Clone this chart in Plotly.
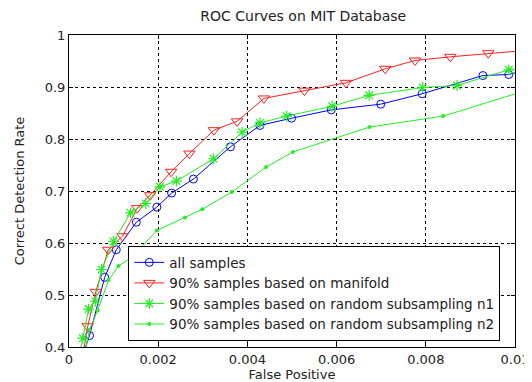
import plotly.graph_objects as go

# All samples (blue circles)
all_x = [0.00033, 0.00046, 0.0008, 0.00106, 0.00151, 0.00197, 0.0023, 0.00279, 0.00362, 0.00428,
         0.00499, 0.00588, 0.00699, 0.00792, 0.00928, 0.00986, 0.0102]
all_y = [0.39, 0.422, 0.534, 0.587, 0.640, 0.669, 0.696, 0.723, 0.785, 0.826,
         0.840, 0.856, 0.867, 0.887, 0.922, 0.924, 0.932]

# 90% samples based on manifold (red triangles)
man_x = [0.00032, 0.00042, 0.0006, 0.00088, 0.0012, 0.00153, 0.00182, 0.00229, 0.0027, 0.00325,
         0.00377, 0.00437, 0.00528, 0.00621, 0.00709, 0.00776, 0.00855, 0.0094, 0.0102]
man_y = [0.39, 0.440, 0.506, 0.587, 0.613, 0.667, 0.692, 0.737, 0.772, 0.817,
         0.834, 0.878, 0.893, 0.908, 0.935, 0.951, 0.958, 0.965, 0.970]

# 90% samples random subsampling n1 (green stars)
n1_x = [0.00025, 0.00031, 0.00044, 0.00059, 0.00073, 0.001, 0.00138, 0.00172, 0.00204, 0.00241,
        0.00324, 0.00388, 0.00428, 0.00488, 0.0059, 0.00673, 0.00793, 0.0087, 0.00986, 0.0102]
n1_y = [0.39, 0.417, 0.473, 0.488, 0.549, 0.603, 0.658, 0.676, 0.708, 0.719,
        0.762, 0.813, 0.831, 0.844, 0.863, 0.884, 0.899, 0.903, 0.933, 0.938]

# 90% samples random subsampling n2 (green dots)
n2_x = [0.00036, 0.00046, 0.00064, 0.00089, 0.00111, 0.0014, 0.00197, 0.0026, 0.00299, 0.00365,
        0.00442, 0.00502, 0.00674, 0.00839, 0.0102]
n2_y = [0.39, 0.433, 0.470, 0.529, 0.556, 0.572, 0.624, 0.649, 0.665, 0.698,
        0.746, 0.775, 0.823, 0.844, 0.892]

x_ticks = [0, 0.002, 0.004, 0.006, 0.008, 0.01]
x_tick_labels = ["0", "0.002", "0.004", "0.006", "0.008", "0.01"]
y_ticks = [0.4, 0.5, 0.6, 0.7, 0.8, 0.9, 1.0]
y_tick_labels = ["0.4", "0.5", "0.6", "0.7", "0.8", "0.9", "1"]

FAM = "DejaVu Sans, Liberation Sans, Arial"
FONT = dict(family=FAM, size=13, color="#222")
LFONT = dict(family=FAM, size=13.5, color="#222")

fig = go.Figure()
fig.add_trace(go.Scatter(x=all_x, y=all_y, mode="lines+markers", name="all samples",
                         line=dict(color="#0000ff", width=1),
                         marker=dict(symbol="circle-open", size=8, color="#0000ff", line=dict(width=1))))
fig.add_trace(go.Scatter(x=man_x, y=man_y, mode="lines+markers", name="90% samples based on manifold",
                         line=dict(color="#ff2020", width=1),
                         marker=dict(symbol="triangle-down-open", size=10, color="#ff2020", line=dict(width=1))))
fig.add_trace(go.Scatter(x=n1_x, y=n1_y, mode="lines+markers",
                         name="90% samples based on random subsampling n1",
                         line=dict(color="#22ee22", width=1),
                         marker=dict(symbol="asterisk-open", size=9, color="#22ee22", line=dict(width=1.2, color="#22ee22"))))
fig.add_trace(go.Scatter(x=n2_x, y=n2_y, mode="lines+markers",
                         name="90% samples based on random subsampling n2",
                         line=dict(color="#22ee22", width=1),
                         marker=dict(symbol="circle", size=4, color="#22ee22")))

axis_common = dict(showline=True, linecolor="black", linewidth=1, mirror="ticks",
                   ticks="inside", ticklen=4, tickcolor="black",
                   showgrid=True, gridcolor="black", gridwidth=1, griddash="3px,3px",
                   zeroline=False, tickfont=FONT, ticklabeloverflow="allow")

fig.update_xaxes(range=[0, 0.0100001], tickvals=x_ticks, ticktext=x_tick_labels,
                 title=dict(text="False Positive", font=FONT, standoff=0),
                 **axis_common)
fig.update_yaxes(range=[0.4, 1.0000001], tickvals=y_ticks, ticktext=y_tick_labels,
                 title=dict(text="Correct Detection Rate", font=FONT, standoff=17),
                 **axis_common)

fig.update_layout(
    width=532, height=382,
    margin=dict(l=60, r=11, t=27, b=43),
    plot_bgcolor="white", paper_bgcolor="white",
    title=dict(text="ROC Curves on MIT Database", x=0.555, xanchor="center", y=1.0, yanchor="top",
               pad=dict(t=3), font=dict(family=FAM, size=14, color="#222")),
    legend=dict(x=0.133, y=0.019, xanchor="left", yanchor="bottom",
                bgcolor="white", bordercolor="black", borderwidth=1,
                font=LFONT, tracegroupgap=0),
    showlegend=True,
)

fig.write_html("out.html")
